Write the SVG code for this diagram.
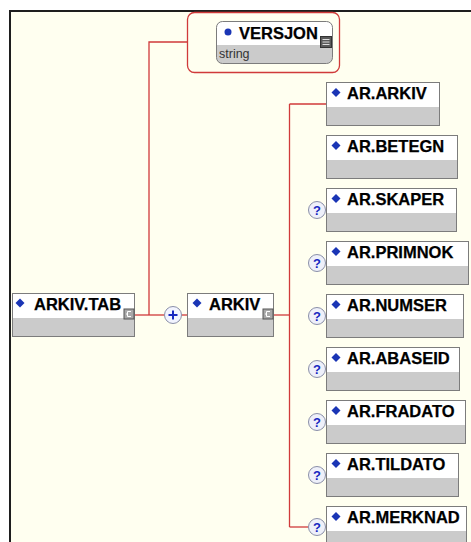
<svg xmlns="http://www.w3.org/2000/svg" width="471" height="542" viewBox="0 0 471 542">
<defs>
<style>
.top{fill:#ffffff}
.bot{fill:#CBCBCB}
.border{fill:none;stroke:#7c7c7c;stroke-width:1}
.lbl{font-family:"Liberation Sans",Arial,sans-serif;font-weight:bold;font-size:16.5px;fill:#000;stroke:#000;stroke-width:0.25}
.sub{font-family:"Liberation Sans",Arial,sans-serif;font-size:12.5px;fill:#333}
.con{fill:none;stroke:#D03A3A;stroke-width:1.3}
.dia{fill:#1a35b5}
.q{fill:#EEF0FA;stroke:#8a8fa8;stroke-width:1}
.qt{font-family:"Liberation Sans",Arial,sans-serif;font-weight:bold;font-size:13px;fill:#1828c0;text-anchor:middle}
.ico{fill:#a8a8a8;stroke:#555;stroke-width:1}
</style>
<path id="d" d="M0,-4.5 L4.5,0 L0,4.5 L-4.5,0Z"/>
<g id="qm"><circle r="8.5" class="q"/><text y="5" class="qt">?</text></g>
<g id="ci"><rect x="0.5" y="0.5" width="10" height="10" class="ico"/><path d="M7.5,3 H4 V8 H7.5 M4,5.5 H2.5" fill="none" stroke="#fff" stroke-width="1"/></g>
</defs>
<rect x="0" y="0" width="471" height="542" fill="#ffffff"/>
<rect x="10" y="11" width="461" height="531" fill="#FFFFF0"/>
<path d="M10 542 V11 H471" fill="none" stroke="#1e1e1e" stroke-width="2"/>

<g id="connectors">
<path class="con" d="M187.5 42 H149 V315"/>
<path class="con" d="M135 315 H164.5"/>
<path class="con" d="M181.5 315 H187"/>
<path class="con" d="M273 315 H289.5"/>
<path class="con" d="M289.5 104 V527"/>
<path class="con" d="M289.5 104 H326"/>
<path class="con" d="M289.5 527 H308.5"/>
</g>

<g id="versjon-group">
<rect x="187.5" y="12.5" width="152" height="60" rx="7" fill="none" stroke="#D03A3A" stroke-width="1.3"/>
</g>
<g id="n-versjon">
<rect x="216.5" y="21.5" width="116" height="42" rx="6" fill="#CBCBCB"/>
<path d="M216.5 45 V27.5 Q216.5 21.5 222.5 21.5 H326.5 Q332.5 21.5 332.5 27.5 V45 Z" fill="#ffffff"/>
<rect x="216.5" y="21.5" width="116" height="42" rx="6" class="border"/>
<circle cx="228" cy="32" r="3.5" fill="#1a35b5"/>
<text x="239" y="39" class="lbl">VERSJON</text>
<text x="219" y="58" class="sub">string</text>
<rect x="320.5" y="36.5" width="11" height="11" fill="#5a5a5a" stroke="#333" stroke-width="1"/>
<path d="M322.5 39.5 H329.5 M322.5 42 H329.5 M322.5 44.5 H329.5" stroke="#ddd" stroke-width="1"/>
</g>

<g id="n-arkiv-tab">
<rect x="12.5" y="293.5" width="122" height="43" class="top"/>
<rect x="12.5" y="318" width="122" height="18.5" class="bot"/>
<rect x="12.5" y="293.5" width="122" height="43" class="border"/>
<use href="#d" x="20" y="303" class="dia"/>
<text x="34" y="309.5" class="lbl">ARKIV.TAB</text>
<use href="#ci" x="123.5" y="308.5"/>
</g>

<g id="n-plus">
<circle cx="173" cy="315" r="8.5" fill="#F2F4FF" stroke="#8a8fa8" stroke-width="1"/>
<path d="M168.5 315 H177.5 M173 310.5 V319.5" stroke="#1828c0" stroke-width="2"/>
</g>

<g id="n-arkiv">
<rect x="187.5" y="293.5" width="86" height="43" class="top"/>
<rect x="187.5" y="318" width="86" height="18.5" class="bot"/>
<rect x="187.5" y="293.5" width="86" height="43" class="border"/>
<use href="#d" x="197" y="303" class="dia"/>
<text x="209" y="309.5" class="lbl">ARKIV</text>
<use href="#ci" x="262.5" y="308.5"/>
</g>

<g id="n-ar-arkiv">
<rect x="326.5" y="82.5" width="113" height="43" class="top"/>
<rect x="326.5" y="107" width="113" height="18.5" class="bot"/>
<rect x="326.5" y="82.5" width="113" height="43" class="border"/>
<use href="#d" x="336" y="92.5" class="dia"/>
<text x="347" y="99" class="lbl">AR.ARKIV</text>
</g>

<g id="n-ar-betegn">
<rect x="326.5" y="135.5" width="131" height="43" class="top"/>
<rect x="326.5" y="160" width="131" height="18.5" class="bot"/>
<rect x="326.5" y="135.5" width="131" height="43" class="border"/>
<use href="#d" x="336" y="145.5" class="dia"/>
<text x="347" y="152" class="lbl">AR.BETEGN</text>
</g>

<g id="n-ar-skaper">
<rect x="326.5" y="188.5" width="130" height="43" class="top"/>
<rect x="326.5" y="213" width="130" height="18.5" class="bot"/>
<rect x="326.5" y="188.5" width="130" height="43" class="border"/>
<use href="#d" x="336" y="198.5" class="dia"/>
<text x="347" y="205" class="lbl">AR.SKAPER</text>
<use href="#qm" x="317" y="210"/>
</g>

<g id="n-ar-primnok">
<rect x="326.5" y="241.5" width="142" height="43" class="top"/>
<rect x="326.5" y="266" width="142" height="18.5" class="bot"/>
<rect x="326.5" y="241.5" width="142" height="43" class="border"/>
<use href="#d" x="336" y="251.5" class="dia"/>
<text x="347" y="258" class="lbl">AR.PRIMNOK</text>
<use href="#qm" x="317" y="263"/>
</g>

<g id="n-ar-numser">
<rect x="326.5" y="294.5" width="137" height="43" class="top"/>
<rect x="326.5" y="319" width="137" height="18.5" class="bot"/>
<rect x="326.5" y="294.5" width="137" height="43" class="border"/>
<use href="#d" x="336" y="304.5" class="dia"/>
<text x="347" y="311" class="lbl">AR.NUMSER</text>
<use href="#qm" x="317" y="316"/>
</g>

<g id="n-ar-abaseid">
<rect x="326.5" y="347.5" width="133" height="43" class="top"/>
<rect x="326.5" y="372" width="133" height="18.5" class="bot"/>
<rect x="326.5" y="347.5" width="133" height="43" class="border"/>
<use href="#d" x="336" y="357.5" class="dia"/>
<text x="347" y="364" class="lbl">AR.ABASEID</text>
<use href="#qm" x="317" y="369"/>
</g>

<g id="n-ar-fradato">
<rect x="326.5" y="400.5" width="139" height="43" class="top"/>
<rect x="326.5" y="425" width="139" height="18.5" class="bot"/>
<rect x="326.5" y="400.5" width="139" height="43" class="border"/>
<use href="#d" x="336" y="410.5" class="dia"/>
<text x="347" y="417" class="lbl">AR.FRADATO</text>
<use href="#qm" x="317" y="422"/>
</g>

<g id="n-ar-tildato">
<rect x="326.5" y="453.5" width="132" height="43" class="top"/>
<rect x="326.5" y="478" width="132" height="18.5" class="bot"/>
<rect x="326.5" y="453.5" width="132" height="43" class="border"/>
<use href="#d" x="336" y="463.5" class="dia"/>
<text x="347" y="470" class="lbl">AR.TILDATO</text>
<use href="#qm" x="317" y="475"/>
</g>

<g id="n-ar-merknad">
<rect x="326.5" y="506.5" width="140" height="43" class="top"/>
<rect x="326.5" y="531" width="140" height="18.5" class="bot"/>
<rect x="326.5" y="506.5" width="140" height="43" class="border"/>
<use href="#d" x="336" y="516.5" class="dia"/>
<text x="347" y="523" class="lbl">AR.MERKNAD</text>
<use href="#qm" x="317" y="527"/>
</g>
</svg>
